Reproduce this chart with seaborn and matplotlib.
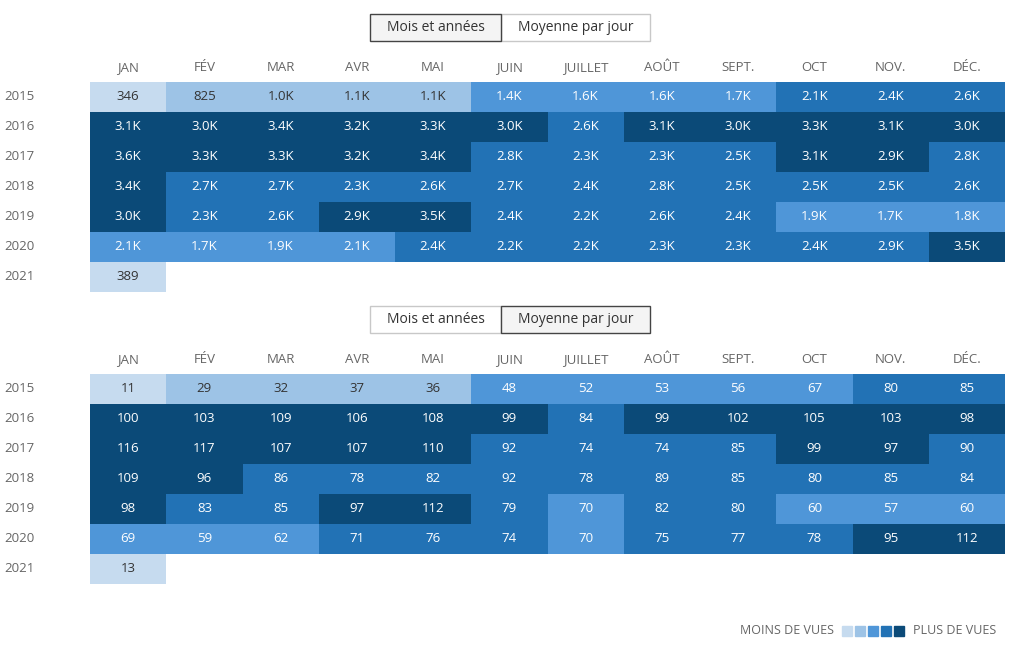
import numpy as np
import pandas as pd
import matplotlib.pyplot as plt
from matplotlib.colors import ListedColormap, BoundaryNorm
import seaborn as sns

months = ["JAN", "FÉV", "MAR", "AVR", "MAI", "JUIN", "JUILLET", "AOÛT", "SEPT.", "OCT", "NOV.", "DÉC."]
years = ["2015", "2016", "2017", "2018", "2019", "2020", "2021"]
nan = np.nan

views = [
    [346, 825, 1000, 1100, 1100, 1400, 1600, 1600, 1700, 2120, 2400, 2600],
    [3100, 3000, 3400, 3200, 3300, 3000, 2600, 3100, 3000, 3300, 3100, 3000],
    [3600, 3300, 3300, 3200, 3400, 2800, 2300, 2300, 2500, 3100, 2920, 2800],
    [3400, 2700, 2700, 2300, 2600, 2700, 2400, 2800, 2500, 2500, 2500, 2600],
    [3000, 2300, 2600, 2930, 3500, 2400, 2200, 2600, 2400, 1900, 1700, 1800],
    [2080, 1700, 1900, 2070, 2400, 2200, 2200, 2300, 2300, 2400, 2880, 3500],
    [389, nan, nan, nan, nan, nan, nan, nan, nan, nan, nan, nan],
]
daily = [
    [11, 29, 32, 37, 36, 48, 52, 53, 56, 67, 80, 85],
    [100, 103, 109, 106, 108, 99, 84, 99, 102, 105, 103, 98],
    [116, 117, 107, 107, 110, 92, 74, 74, 85, 99, 97, 90],
    [109, 96, 86, 78, 82, 92, 78, 89, 85, 80, 85, 84],
    [98, 83, 85, 97, 112, 79, 70, 82, 80, 60, 57, 60],
    [69, 59, 62, 71, 76, 74, 70, 75, 77, 78, 95, 112],
    [13, nan, nan, nan, nan, nan, nan, nan, nan, nan, nan, nan],
]
views_bounds = [0, 600, 1200, 2100, 2900, 10000]
daily_bounds = [0, 20, 45, 70.5, 93, 1000]

palette = ["#c6dbef", "#9dc3e6", "#4f96d8", "#2272b5", "#0b4a78"]
cmap = ListedColormap(palette)

plt.rcParams["font.family"] = ["Open Sans", "DejaVu Sans"]


def fmt_k(v):
    return f"{v / 1000:.1f}K" if v >= 1000 else f"{int(v)}"


def draw(ax, values, bounds, labeler):
    df = pd.DataFrame(values, index=years, columns=months)
    bins = np.digitize(df.values, bounds[1:-1]).astype(float)
    bins[np.isnan(df.values)] = np.nan
    labels = np.array([[labeler(v) if not np.isnan(v) else "" for v in row] for row in df.values])
    sns.heatmap(pd.DataFrame(bins, index=years, columns=months), cmap=cmap,
                norm=BoundaryNorm(np.arange(-0.5, 5.5), 5), cbar=False, ax=ax,
                annot=labels, fmt="", annot_kws={"fontsize": 9.5})
    for t, b in zip(ax.texts, [b for b in bins.ravel() if not np.isnan(b)]):
        t.set_color("#333333" if b < 2 else "white")
    ax.xaxis.tick_top()
    ax.tick_params(length=0, labelsize=9.5, colors="#666666", pad=6)
    ax.set_xticklabels(months, rotation=0)
    ax.set_yticklabels(years, rotation=0, ha="right")
    ax.tick_params(axis="y", pad=40)
    ax.set_xlabel("")
    ax.set_ylabel("")


def buttons(fig, ytop, active):
    spans = [("Mois et années", 370, 501), ("Moyenne par jour", 501, 650)]
    for i, (label, x0, x1) in enumerate(spans):
        fig.patches.append(plt.Rectangle((x0 / 1028, 1 - (ytop + 27) / 656), (x1 - x0) / 1028, 27 / 656,
                                         transform=fig.transFigure, zorder=1 if i != active else 2,
                                         fc="#f4f4f4" if i == active else "white",
                                         ec="#444444" if i == active else "#c8c8c8", lw=1))
        fig.text((x0 + x1) / 2 / 1028, 1 - (ytop + 13.5) / 656, label, ha="center", va="center",
                 fontsize=10, color="#333333", zorder=3)


fig = plt.figure(figsize=(10.28, 6.56), dpi=100)
ax1 = fig.add_axes([90 / 1028, 1 - 292 / 656, 915 / 1028, 210 / 656])
ax2 = fig.add_axes([90 / 1028, 1 - 584 / 656, 915 / 1028, 210 / 656])
draw(ax1, views, views_bounds, fmt_k)
draw(ax2, daily, daily_bounds, lambda v: f"{int(v)}")

buttons(fig, 14, 0)
buttons(fig, 306, 1)

fig.text(834 / 1028, 1 - 631 / 656, "MOINS DE VUES", ha="right", va="center", fontsize=9, color="#666666")
fig.text(913 / 1028, 1 - 631 / 656, "PLUS DE VUES", ha="left", va="center", fontsize=9, color="#666666")
for i, c in enumerate(palette):
    fig.patches.append(plt.Rectangle(((842 + 13 * i) / 1028, 1 - 636 / 656), 10 / 1028, 10 / 656,
                                     transform=fig.transFigure, color=c))

fig.savefig("out.png", dpi=100)
